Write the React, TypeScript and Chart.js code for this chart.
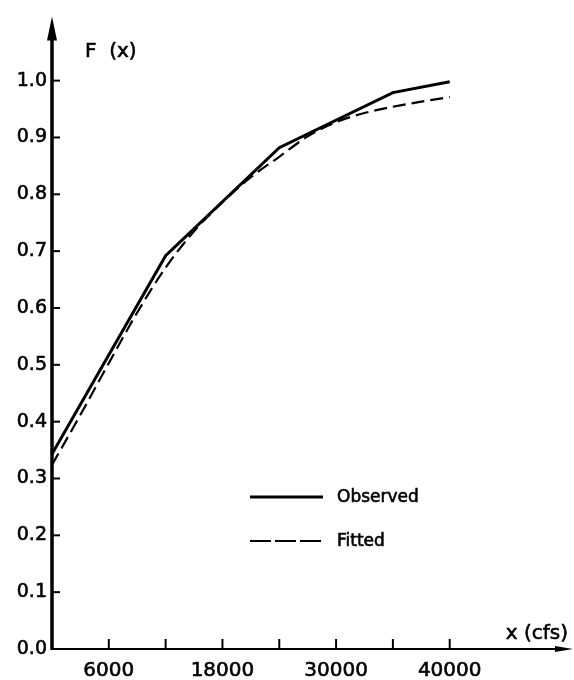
import React, { useEffect, useRef } from 'react';
import { Chart, registerables } from 'chart.js';

Chart.register(...registerables);

// ---- data ----
const xTickPositions = [1, 2, 3, 4, 5, 6, 7];
const xTickLabels = ['6000', '', '18000', '', '30000', '', '40000'];
const yTickValues = [0, 0.1, 0.2, 0.3, 0.4, 0.5, 0.6, 0.7, 0.8, 0.9, 1.0];

const observedX = [0, 2, 4, 6, 7];
const observedY = [0.343, 0.692, 0.882, 0.979, 0.998];

const fittedX = [0, 0.5, 1, 1.5, 2, 2.5, 3, 3.5, 4, 4.5, 5, 5.5, 6, 6.5, 7];
const fittedY = [0.324, 0.412, 0.503, 0.592, 0.671, 0.735, 0.786, 0.83, 0.866, 0.902, 0.927, 0.943, 0.954, 0.963, 0.971];

const seriesNames = ['Observed', 'Fitted'];
const yAxisTitle = 'F  (x)';
const xAxisTitle = 'x (cfs)';

const INK = '#000000';
const FONT = '"DejaVu Sans", sans-serif';

const axesPlugin = {
  id: 'handAxes',
  afterDraw(chart: any) {
    const { ctx, chartArea } = chart;
    const xs = chart.scales.x;
    const ys = chart.scales.y;
    const left = chartArea.left;
    const bottom = chartArea.bottom;
    ctx.save();
    ctx.strokeStyle = INK;
    ctx.fillStyle = INK;
    ctx.setLineDash([]);
    // y axis
    ctx.lineWidth = 3.5;
    ctx.beginPath();
    ctx.moveTo(left, bottom + 1);
    ctx.lineTo(left, chartArea.top + 20);
    ctx.stroke();
    ctx.beginPath();
    ctx.moveTo(left, chartArea.top);
    ctx.lineTo(left - 5, chartArea.top + 24);
    ctx.lineTo(left + 5, chartArea.top + 24);
    ctx.closePath();
    ctx.fill();
    // x axis
    ctx.lineWidth = 2.2;
    ctx.beginPath();
    ctx.moveTo(left, bottom);
    ctx.lineTo(chartArea.right - 14, bottom);
    ctx.stroke();
    ctx.beginPath();
    ctx.moveTo(chartArea.right, bottom);
    ctx.lineTo(chartArea.right - 18, bottom - 3);
    ctx.lineTo(chartArea.right - 18, bottom + 3);
    ctx.closePath();
    ctx.fill();
    // y ticks (inward)
    ctx.lineWidth = 2;
    yTickValues.forEach((v) => {
      const py = ys.getPixelForValue(v);
      if (v === 0) return;
      ctx.beginPath();
      ctx.moveTo(left, py);
      ctx.lineTo(left + 8, py);
      ctx.stroke();
    });
    // x ticks (upward)
    xTickPositions.forEach((v) => {
      const px = xs.getPixelForValue(v);
      ctx.beginPath();
      ctx.moveTo(px, bottom);
      ctx.lineTo(px, bottom - 10);
      ctx.stroke();
    });
    const txt = (s: string, x: number, y: number) => {
      ctx.lineWidth = 0.6;
      ctx.strokeText(s, x, y);
      ctx.fillText(s, x, y);
    };
    // axis titles
    ctx.font = `20px ${FONT}`;
    ctx.textBaseline = 'middle';
    ctx.textAlign = 'left';
    txt(yAxisTitle, left + 33, 52);
    ctx.textAlign = 'right';
    txt(xAxisTitle, chartArea.right - 5, bottom - 15);
    // legend
    const legendY = [497, 541];
    chart.data.datasets.forEach((ds: any, i: number) => {
      ctx.lineWidth = ds.borderWidth;
      ctx.setLineDash(i === 1 ? [21, 4] : []);
      ctx.beginPath();
      ctx.moveTo(250, legendY[i]);
      ctx.lineTo(323, legendY[i]);
      ctx.stroke();
      ctx.setLineDash([]);
      ctx.font = `17px ${FONT}`;
      ctx.textAlign = 'left';
      ctx.textBaseline = 'middle';
      txt(ds.label, 337, legendY[i] + 1);
    });
    ctx.restore();
  },
};

export default function App() {
  const canvasRef = useRef<HTMLCanvasElement | null>(null);

  useEffect(() => {
    if (!canvasRef.current) return;
    const chart = new Chart(canvasRef.current, {
      type: 'line',
      data: {
        datasets: [
          {
            label: seriesNames[0],
            data: observedX.map((x, i) => ({ x, y: observedY[i] })),
            borderColor: INK,
            borderWidth: 3,
            pointRadius: 0,
            tension: 0,
            fill: false,
          },
          {
            label: seriesNames[1],
            data: fittedX.map((x, i) => ({ x, y: fittedY[i] })),
            borderColor: INK,
            borderWidth: 2.2,
            borderDash: [13, 6],
            pointRadius: 0,
            cubicInterpolationMode: 'monotone',
            fill: false,
          },
        ],
      },
      plugins: [axesPlugin],
      options: {
        animation: false,
        responsive: false,
        events: [],
        layout: { padding: { top: 10, right: 1, left: 0, bottom: 0 } },
        plugins: {
          legend: { display: false },
          tooltip: { enabled: false },
          title: { display: false },
        },
        scales: {
          x: {
            type: 'linear',
            min: 0,
            max: 9.17,
            afterFit: (s: any) => {
              s.height = 31;
            },
            afterBuildTicks: (s: any) => {
              s.ticks = xTickPositions.map((v) => ({ value: v }));
            },
            grid: { display: false, drawTicks: false },
            border: { display: false },
            ticks: {
              autoSkip: false,
              maxRotation: 0,
              padding: 10,
              color: INK,
              textStrokeColor: INK,
              textStrokeWidth: 0.6,
              font: { family: FONT, size: 20 },
              callback: (v: any) => {
                const i = xTickPositions.indexOf(Number(v));
                return i >= 0 ? xTickLabels[i] : '';
              },
            },
          },
          y: {
            type: 'linear',
            min: 0,
            max: 1.113,
            afterFit: (s: any) => {
              s.width = 52;
            },
            afterBuildTicks: (s: any) => {
              s.ticks = yTickValues.map((v) => ({ value: v }));
            },
            grid: { display: false, drawTicks: false },
            border: { display: false },
            ticks: {
              padding: 5,
              color: INK,
              textStrokeColor: INK,
              textStrokeWidth: 0.6,
              font: { family: FONT, size: 19 },
              callback: (v: any) => Number(v).toFixed(1),
            },
          },
        },
      },
    } as any);
    return () => chart.destroy();
  }, []);

  return (
    <div style={{ position: 'fixed', left: 0, top: 0, width: 574, height: 680, background: '#fff' }}>
      <canvas ref={canvasRef} width={574} height={680} />
    </div>
  );
}
